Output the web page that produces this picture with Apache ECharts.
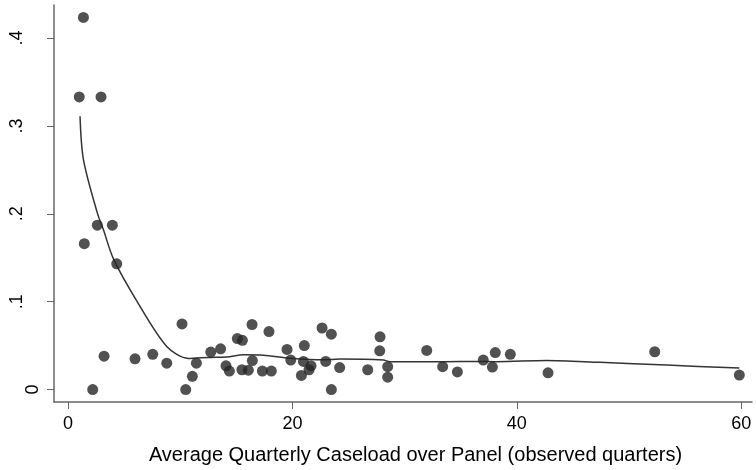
<!DOCTYPE html>
<html>
<head>
<meta charset="utf-8">
<script src="https://cdn.jsdelivr.net/npm/echarts@6/dist/echarts.min.js"></script>
<style>
  html, body { margin: 0; padding: 0; background: #fff; }
  #scatterChart { width: 756px; height: 470px; }
</style>
</head>
<body>
<div id="scatterChart"></div>
<script>
// observed panels: average caseload (x) and rate (y)
const caseload = [1.0, 1.37, 2.94, 2.61, 3.95, 1.45, 4.34, 3.21, 2.2, 5.97,
  7.55, 8.8, 10.16, 10.49, 11.08, 11.44, 12.72, 13.6, 14.08, 14.38,
  15.09, 15.54, 16.4, 15.5, 16.07, 16.43, 17.32, 18.12, 17.91, 19.52,
  19.85, 21.06, 20.98, 20.8, 21.48, 21.66, 22.64, 23.47, 22.97, 23.47,
  24.21, 26.71, 27.81, 27.78, 28.49, 28.49, 31.97, 33.39, 34.7, 37.01,
  38.08, 37.82, 39.42, 42.78, 52.29, 59.83];
const rate = [0.333, 0.4235, 0.333, 0.187, 0.187, 0.166, 0.143, 0.038, 0.0, 0.035,
  0.040, 0.030, 0.0747, 0.0, 0.015, 0.030, 0.0426, 0.0463, 0.027, 0.021,
  0.058, 0.056, 0.074, 0.0225, 0.022, 0.033, 0.021, 0.021, 0.066, 0.0456,
  0.0335, 0.050, 0.032, 0.016, 0.0225, 0.027, 0.070, 0.063, 0.032, 0.0,
  0.025, 0.0225, 0.060, 0.044, 0.026, 0.014, 0.0445, 0.026, 0.020, 0.0335,
  0.042, 0.0255, 0.040, 0.019, 0.043, 0.0165];

// lowess fit line
const fitCaseload = [1.07, 1.37, 2.61, 3.15, 4.04, 6.12, 8.8, 10.72, 11.47, 12.66,
  14.14, 15.63, 17.4, 19.8, 22.76, 24.24, 28.1, 28.7, 33.45, 36.7,
  38.2, 42.66, 47.4, 53.36, 59.83];
const fitRate = [0.311, 0.262, 0.201, 0.182, 0.149, 0.101, 0.049, 0.0354, 0.036, 0.0365,
  0.037, 0.0395, 0.039, 0.0357, 0.0338, 0.0346, 0.0335, 0.0316, 0.0316, 0.032,
  0.0316, 0.0331, 0.0309, 0.0278, 0.0244];

const xTicks = [0, 20, 40, 60];
const yTicks = [0, 0.1, 0.2, 0.3, 0.4];
const yZeroLabel = [0];
const yOtherLabels = [0.1, 0.2, 0.3, 0.4];

const chart = echarts.init(document.getElementById('scatterChart'));
const font = 'Liberation Sans, Arial, sans-serif';
const fmtY = v => v === 0 ? '0' : String(v).replace('0.', '.');

// two y axes on the same spot: stata puts the "0" label closer to the axis than the others
const yBase = {
  type: 'value',
  min: -0.0142,
  max: 0.4376,
  position: 'left',
  splitLine: { show: false }
};

chart.setOption({
  animation: false,
  backgroundColor: '#fff',
  grid: { left: 54, right: 4, top: 5, bottom: 67 },
  xAxis: {
    type: 'value',
    min: -1.25,
    max: 60.96,
    name: 'Average Quarterly Caseload over Panel (observed quarters)',
    nameLocation: 'middle',
    nameGap: 43,
    nameTextStyle: { color: '#000', fontSize: 20, fontFamily: font, padding: [0, 0, 0, 25] },
    splitLine: { show: false },
    axisLine: { onZero: false, lineStyle: { color: '#666', width: 1.5 } },
    axisTick: { customValues: xTicks, length: 7, lineStyle: { color: '#666' } },
    axisLabel: { customValues: xTicks, color: '#000', fontSize: 18, fontFamily: font, margin: 13 }
  },
  yAxis: [
    Object.assign({}, yBase, {
      axisLine: { onZero: false, lineStyle: { color: '#666', width: 1.5 } },
      axisTick: { customValues: yTicks, length: 7, lineStyle: { color: '#666' } },
      axisLabel: { customValues: yZeroLabel, rotate: 90, margin: 12, color: '#000', fontSize: 18, fontFamily: font, formatter: fmtY }
    }),
    Object.assign({}, yBase, {
      axisLine: { show: false, onZero: false },
      axisTick: { show: false },
      axisLabel: { customValues: yOtherLabels, rotate: 90, margin: 28, color: '#000', fontSize: 18, fontFamily: font, formatter: fmtY }
    })
  ],
  series: [
    {
      type: 'scatter',
      data: caseload.map((x, i) => [x, rate[i]]),
      symbolSize: 11,
      itemStyle: { color: '#262626' },
      z: 3
    },
    {
      type: 'line',
      data: fitCaseload.map((x, i) => [x, fitRate[i]]),
      showSymbol: false,
      smooth: 0.3,
      lineStyle: { color: '#333', width: 1.5 },
      z: 2
    }
  ]
});
</script>
</body>
</html>
